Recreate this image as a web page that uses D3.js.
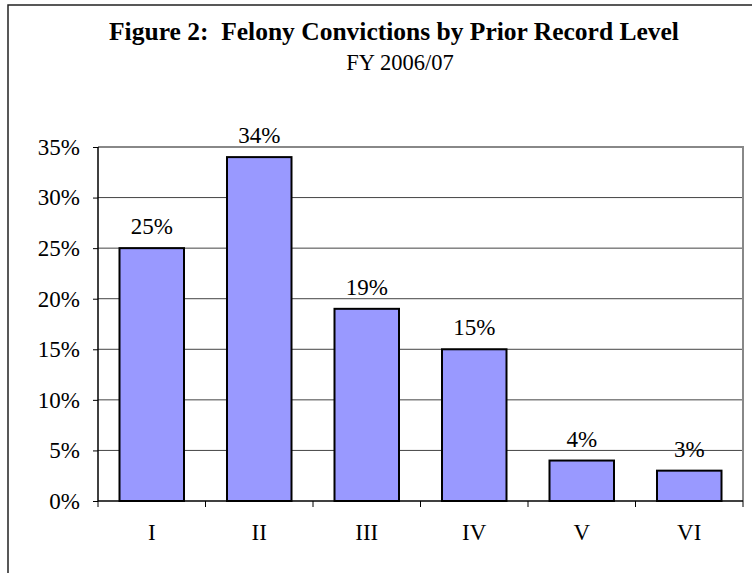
<!DOCTYPE html>
<html>
<head>
<meta charset="utf-8">
<script src="https://cdn.jsdelivr.net/npm/d3@7"></script>
<style>
  body { margin: 0; background: #fff; }
  svg { display: block; font-family: "Liberation Serif", "Times New Roman", serif; }
</style>
</head>
<body>
<div id="chart"></div>
<script>
// data
const levels = ['I', 'II', 'III', 'IV', 'V', 'VI'];
const shares = [25, 34, 19, 15, 4, 3];
const yTicks = [0, 5, 10, 15, 20, 25, 30, 35];

const W = 752, H = 573;
const plot = { left: 98, right: 743, top: 147, bottom: 501 };
const labelSize = '23px';

const svg = d3.select('#chart')
  .append('svg')
  .attr('width', W)
  .attr('height', H);

// outer chart frame (runs past the right and bottom edges)
svg.append('rect')
  .attr('x', 8).attr('y', 5)
  .attr('width', 800).attr('height', 700)
  .attr('fill', 'none')
  .attr('stroke', '#222')
  .attr('stroke-width', 1.5);

svg.append('text')
  .attr('x', 394).attr('y', 40)
  .attr('text-anchor', 'middle')
  .attr('font-size', '25.5px')
  .attr('font-weight', 'bold')
  .attr('xml:space', 'preserve')
  .text('Figure 2:  Felony Convictions by Prior Record Level');

svg.append('text')
  .attr('x', 400).attr('y', 70)
  .attr('text-anchor', 'middle')
  .attr('font-size', '22.5px')
  .text('FY 2006/07');

const x = d3.scaleBand()
  .domain(levels)
  .range([plot.left, plot.right])
  .paddingInner(0.4)
  .paddingOuter(0.2);

const y = d3.scaleLinear()
  .domain([0, 35])
  .range([plot.bottom, plot.top]);

// gridlines
svg.append('g')
  .selectAll('line')
  .data(yTicks.filter(d => d > 0 && d < 35))
  .join('line')
  .attr('x1', plot.left).attr('x2', plot.right)
  .attr('y1', d => y(d)).attr('y2', d => y(d))
  .attr('stroke', '#444')
  .attr('stroke-width', 1);

// gray top / right frame of plot area
svg.append('path')
  .attr('d', `M${plot.left},${y(35)}H${plot.right}V${plot.bottom}`)
  .attr('fill', 'none')
  .attr('stroke', '#888')
  .attr('stroke-width', 2);

// bars
svg.append('g')
  .selectAll('rect')
  .data(levels.map((l, i) => ({ l, v: shares[i] })))
  .join('rect')
  .attr('x', d => x(d.l))
  .attr('y', d => y(d.v))
  .attr('width', x.bandwidth())
  .attr('height', d => y(0) - y(d.v))
  .attr('fill', '#9999ff')
  .attr('stroke', '#000')
  .attr('stroke-width', 2);

// value labels
svg.append('g')
  .selectAll('text')
  .data(levels.map((l, i) => ({ l, v: shares[i] })))
  .join('text')
  .attr('x', d => x(d.l) + x.bandwidth() / 2)
  .attr('y', d => y(d.v) - 14)
  .attr('text-anchor', 'middle')
  .attr('font-size', labelSize)
  .text(d => d.v + '%');

// y axis
svg.append('g')
  .attr('transform', `translate(${plot.left},0)`)
  .call(d3.axisLeft(y).tickValues(yTicks).tickSize(5).tickPadding(13).tickFormat(d => d + '%'))
  .call(g => g.select('.domain').attr('stroke', '#000').attr('stroke-width', 1.5).attr('d', `M0,${plot.top}V${plot.bottom}`))
  .call(g => g.selectAll('line').attr('stroke', '#000'))
  .call(g => g.selectAll('text').attr('font-size', labelSize).attr('font-family', 'Liberation Serif, serif').attr('fill', '#000'));

// x axis: ticks sit on band boundaries
const bounds = d3.range(levels.length + 1).map(i => plot.left + i * (plot.right - plot.left) / levels.length);
const xg = svg.append('g');
xg.append('line')
  .attr('x1', plot.left).attr('x2', plot.right)
  .attr('y1', plot.bottom).attr('y2', plot.bottom)
  .attr('stroke', '#000').attr('stroke-width', 1.5);
xg.selectAll('line.tick')
  .data(bounds)
  .join('line')
  .attr('class', 'tick')
  .attr('x1', d => d).attr('x2', d => d)
  .attr('y1', plot.bottom).attr('y2', plot.bottom + 6)
  .attr('stroke', '#000');
xg.selectAll('text')
  .data(levels)
  .join('text')
  .attr('x', d => x(d) + x.bandwidth() / 2)
  .attr('y', 540)
  .attr('text-anchor', 'middle')
  .attr('font-size', labelSize)
  .text(d => d);
</script>
</body>
</html>
